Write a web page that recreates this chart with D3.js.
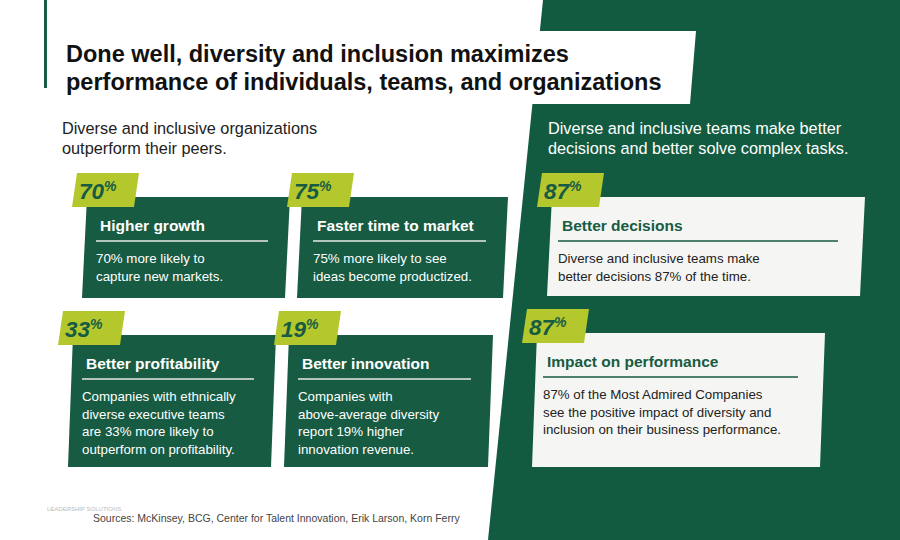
<!DOCTYPE html><html><head><meta charset="utf-8">
<script src="https://cdn.jsdelivr.net/npm/d3@7"></script>
<style>body{margin:0;background:#fff}svg{display:block;font-family:Arial,"Liberation Sans",sans-serif}</style>
</head><body><svg id="c" width="900" height="540"></svg>
<script>
const percents=[70,75,33,19,87,87];
const titles=["Higher growth","Faster time to market","Better profitability","Better innovation","Better decisions","Impact on performance"];
const descriptions=[
 ["70% more likely to","capture new markets."],
 ["75% more likely to see","ideas become productized."],
 ["Companies with ethnically","diverse executive teams","are 33% more likely to","outperform on profitability."],
 ["Companies with","above-average diversity","report 19% higher","innovation revenue."],
 ["Diverse and inclusive teams make","better decisions 87% of the time."],
 ["87% of the Most Admired Companies","see the positive impact of diversity and","inclusion on their business performance."]];
const groups=["left","left","left","left","right","right"];
const subtitles=[["Diverse and inclusive organizations","outperform their peers."],["Diverse and inclusive teams make better","decisions and better solve complex tasks."]];
const titleLines=["Done well, diversity and inclusion maximizes","performance of individuals, teams, and organizations"];
const source="Sources: McKinsey, BCG, Center for Talent Innovation,  Erik Larson, Korn Ferry";

const svg=d3.select("#c");
const G="#175b42",L="#b4c82e";
const boxes=[
 {x:82,y:197,w:203,h:101},{x:297,y:197,w:206,h:101},
 {x:68,y:335,w:203,h:132},{x:284,y:335,w:204,h:132},
 {x:547,y:197,w:313,h:99},{x:532,y:333,w:288,h:134}];
const sk=5;
const para=(x,y,w,h)=>`M${x+sk},${y}L${x+w+sk},${y}L${x+w},${y+h}L${x},${y+h}Z`;
svg.append("path").attr("d","M543,0L900,0L900,540L488,540Z").attr("fill","#125b40");
svg.append("path").attr("d","M46,31L696,31L690,104L46,104Z").attr("fill","#fff");
svg.append("rect").attr("x",44).attr("y",0).attr("width",3).attr("height",88).attr("fill",G);
svg.append("g").selectAll("text").data(titleLines).join("text")
 .attr("x",66).attr("y",(d,i)=>62+i*28).attr("font-size",23.5).attr("font-weight","bold").attr("fill","#111").text(d=>d);
[[62,134,"#222"],[548,134,"#fff"]].forEach((p,k)=>{
 svg.append("g").selectAll("text").data(subtitles[k]).join("text").attr("x",p[0]).attr("y",(d,i)=>p[1]+i*20)
  .attr("font-size",16.3).attr("fill",p[2]).text(d=>d);});
const cards=svg.append("g").selectAll("g").data(percents).join("g");
cards.each(function(v,i){
 const b=boxes[i],g=d3.select(this),right=groups[i]==="right";
 const fill=right?"#f5f6f4":G,tc=right?G:"#fff",dc=right?"#222":"#fff",lc=right?G:"#e8e8e8";
 g.append("path").attr("d",para(b.x,b.y,b.w,b.h)).attr("fill",fill);
 const bx=b.x-10,by=b.y-24;
 g.append("path").attr("d",para(bx,by,62,34)).attr("fill",L);
 const t=g.append("text").attr("x",bx+7).attr("y",by+26).attr("fill",G).attr("font-weight","bold").attr("font-style","italic");
 t.append("tspan").attr("font-size",22.5).text(v);
 t.append("tspan").attr("font-size",14).attr("dy",-8).text("%");
 const tx=b.x+(right?15:(i===1?20:18));
 g.append("text").attr("x",tx).attr("y",b.y+34).attr("font-size",15.5).attr("font-weight","bold").attr("fill",tc).text(titles[i]);
 g.append("line").attr("x1",tx-4).attr("x2",b.x+b.w-(right?22:17)).attr("y1",b.y+44).attr("y2",b.y+44).attr("stroke",lc).attr("stroke-width",1.5);
 g.append("g").selectAll("text").data(descriptions[i]).join("text").attr("x",tx-4).attr("y",(d,j)=>b.y+66+j*17.5)
  .attr("font-size",13.3).attr("fill",dc).text(d=>d);
});
svg.append("text").attr("x",47).attr("y",511).attr("font-size",6).attr("fill","#bbb").text("LEADERSHIP SOLUTIONS");
svg.append("text").attr("x",93).attr("y",522).attr("font-size",10.5).attr("fill","#444").text(source);
</script></body></html>
